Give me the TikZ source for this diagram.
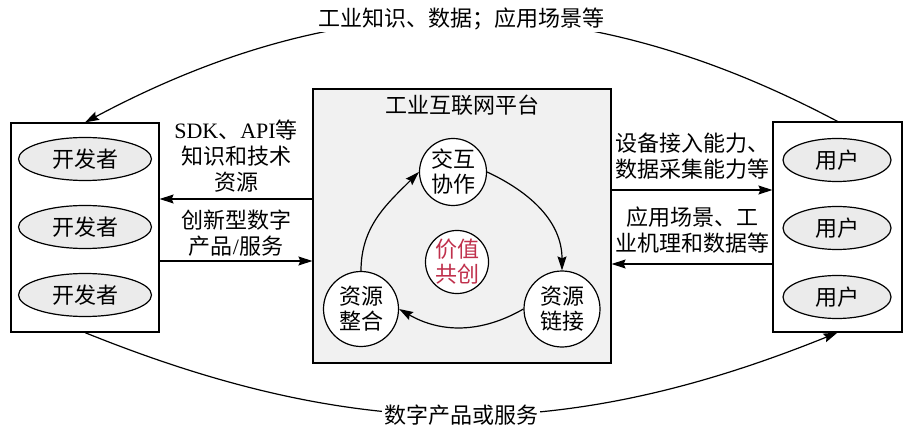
\documentclass[tikz,border=0pt]{standalone}
\usepackage{fontspec}
\setmainfont{Noto Sans CJK SC}
\newfontfamily\latn{Liberation Serif}
\usepackage{tikz}
\usetikzlibrary{positioning, shapes.geometric, arrows.meta, calc}
\usepackage{xcolor}
\definecolor{boxgray}{HTML}{F1F1F1}
\definecolor{ovalgray}{HTML}{EBEBEB}
\definecolor{valred}{HTML}{C0304C}

\begin{document}
\begin{tikzpicture}[x=1pt, y=1pt, line width=1.2pt,
    font=\fontsize{22}{26}\selectfont,
    arr/.style={-{Stealth[length=14pt, width=9pt, inset=2pt]}},
    group/.style={draw, rectangle, inner sep=0pt},
    actor/.style={draw, ellipse, fill=ovalgray, inner sep=0pt, minimum height=43pt},
    stage/.style={draw, circle, fill=white, inner sep=0pt, align=center,
                  font=\fontsize{22}{25}\selectfont},
    lbl/.style={align=center, inner sep=2pt}]
  \useasboundingbox (0,0) rectangle (909,-435);

  % developers
  \node[group, minimum width=148pt, minimum height=209pt] (devbox) at (85,-227.5) {};
  \node[actor, minimum width=133pt] (dev1) at (85,-159) {开发者};
  \node[actor, minimum width=133pt] (dev2) at (85,-227) {开发者};
  \node[actor, minimum width=133pt] (dev3) at (85,-295) {开发者};

  % users
  \node[group, minimum width=129pt, minimum height=210pt] (userbox) at (837.5,-227) {};
  \node[actor, minimum width=108pt] (user1) at (837,-160) {用户};
  \node[actor, minimum width=108pt] (user2) at (837,-228) {用户};
  \node[actor, minimum width=108pt] (user3) at (837,-297) {用户};

  % platform
  \node[group, fill=boxgray, minimum width=298pt, minimum height=274pt] (platform) at (462,-226) {};
  \node[below=3pt of platform.north] (ptitle) {工业互联网平台};
  \node[stage, minimum size=67pt] (c1) at (453,-172) {交互\\协作};
  \node[stage, minimum size=76pt] (c2) at (562,-309) {资源\\链接};
  \node[stage, minimum size=75pt] (c3) at (361,-309) {资源\\整合};
  \node[stage, text=valred] (core) at (457,-262) {价值\\共创};

  \draw[arr] (c1.east) to[out=-25, in=90] (c2.north);
  \draw[arr] (c2.west) to[out=210, in=-30] (c3.east);
  \draw[arr] (c3.north) to[out=90, in=225] (c1.west);

  % flows between platform and developers / users
  \draw[arr] ([yshift=27pt]platform.west) -- ([yshift=27pt]platform.west -| devbox.east)
    node[midway, above=4pt, lbl] {{\latn SDK}、{\latn API}等\\知识和技术\\资源};
  \draw[arr] ([yshift=-35pt]platform.west -| devbox.east) -- ([yshift=-35pt]platform.west)
    node[midway, above=2pt, lbl] {创新型数字\\产品{\latn /}服务};
  \draw[arr] ([yshift=36pt]platform.east) -- ([yshift=36pt]platform.east -| userbox.west)
    node[midway, above=8pt, lbl] {设备接入能力、\\数据采集能力等};
  \draw[arr] ([yshift=-38pt]platform.east -| userbox.west) -- ([yshift=-38pt]platform.east)
    node[midway, above=8pt, lbl] {应用场景、工\\业机理和数据等};

  % outer loop
  \draw[arr] (userbox.north) to[bend right=28]
    node[fill=white, inner sep=2pt] (toplbl) {工业知识、数据；应用场景等} (devbox.north);
  \draw[arr] (devbox.south) to[bend right=22]
    node[fill=white, inner sep=2pt] (botlbl) {数字产品或服务} (userbox.south);
\end{tikzpicture}
\end{document}
